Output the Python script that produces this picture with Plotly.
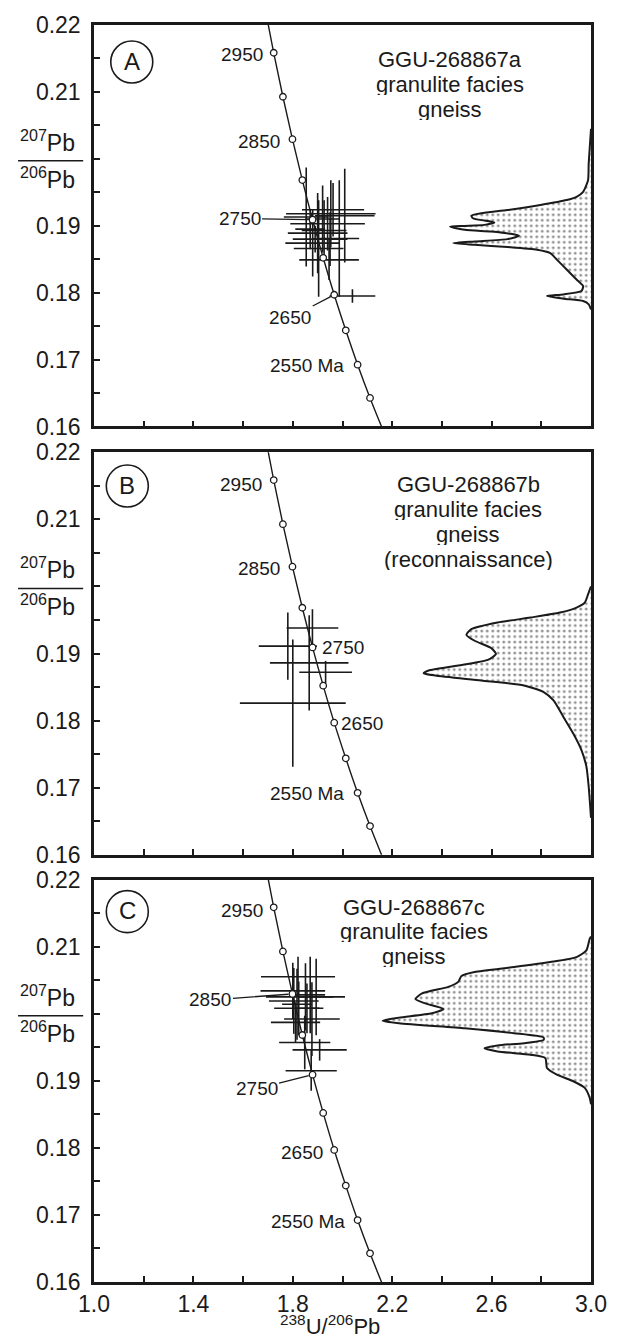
import plotly.graph_objects as go

FONT = "Liberation Sans, Arial, Helvetica, sans-serif"
INK = "#1a1a1a"

# ---------------- data ----------------
# Tera-Wasserburg concordia, values (ages in Ma)
conc_age = [2450, 2500, 2550, 2600, 2650, 2700, 2750, 2800, 2850, 2900, 2950, 3000]
conc_x = [2.1628, 2.1108, 2.0608, 2.0132, 1.9667, 1.9223, 1.8795, 1.8383, 1.7986, 1.7602, 1.7232, 1.6874]
conc_y = [0.15947, 0.16427, 0.16923, 0.17437, 0.17969, 0.18521, 0.19091, 0.19682, 0.20294, 0.20928, 0.21585, 0.22266]
tick_ages = [2500, 2550, 2600, 2650, 2700, 2750, 2800, 2850, 2900, 2950]

# Panel A: GGU-268867a analyses (centre, half error)
a_x = [1.854, 1.904, 2.009, 1.987, 2.040, 1.953, 1.940, 1.946, 1.880, 1.926, 1.950, 1.962, 1.900, 1.870, 1.920, 1.890]
a_y = [0.1913, 0.1866, 0.1915, 0.1881, 0.1795, 0.1918, 0.1903, 0.1849, 0.1874, 0.1893, 0.1880, 0.1924, 0.1889, 0.1895, 0.1910, 0.1880]
a_xe = [0.090, 0.100, 0.120, 0.080, 0.092, 0.180, 0.150, 0.120, 0.110, 0.090, 0.070, 0.125, 0.120, 0.060, 0.070, 0.090]
a_ye = [0.0074, 0.0072, 0.0070, 0.0087, 0.0010, 0.0050, 0.0040, 0.0030, 0.0050, 0.0045, 0.0040, 0.0040, 0.0060, 0.0030, 0.0050, 0.0020]

# Panel B: GGU-268867b
b_x = [1.780, 1.800, 1.866, 1.879, 1.932]
b_y = [0.1911, 0.1826, 0.1886, 0.1938, 0.1872]
b_xe = [0.117, 0.213, 0.158, 0.104, 0.106]
b_ye = [0.0050, 0.0095, 0.0071, 0.0028, 0.0017]

# Panel C: GGU-268867c
c_x = [1.821, 1.800, 1.851, 1.804, 1.824, 1.877, 1.811, 1.848, 1.908, 1.874, 1.870, 1.894, 1.857, 1.817]
c_y = [0.2055, 0.2034, 0.2025, 0.2019, 0.2008, 0.1992, 0.1987, 0.1957, 0.1946, 0.1915, 0.2028, 0.2025, 0.2008, 0.2014]
c_xe = [0.149, 0.130, 0.159, 0.100, 0.099, 0.112, 0.099, 0.103, 0.109, 0.103, 0.060, 0.070, 0.050, 0.060]
c_ye = [0.0030, 0.0042, 0.0050, 0.0049, 0.0040, 0.0055, 0.0030, 0.0040, 0.0016, 0.0030, 0.0057, 0.0057, 0.0037, 0.0053]

# Probability density outlines (x, y)
pdf_a_x = [3.0, 2.9907, 2.9881, 2.9683, 2.9418, 2.9021, 2.7963, 2.6640, 2.5582, 2.5185, 2.5251, 2.5714,
           2.6111, 2.5714, 2.4921, 2.4325, 2.4921, 2.5979, 2.6772, 2.7103, 2.6640, 2.5317, 2.4458, 2.5317,
           2.6640, 2.7831, 2.8360, 2.8624, 2.9021, 2.9418, 2.9683, 2.9616, 2.8889, 2.8228, 2.8889, 2.9683,
           2.9907, 3.0]
pdf_a_y = [0.2045, 0.19928, 0.19681, 0.19507, 0.19433, 0.19384, 0.19310, 0.19235, 0.19186, 0.19151, 0.19112,
           0.19077, 0.19048, 0.19013, 0.18998, 0.18988, 0.18939, 0.18914, 0.18879, 0.18850, 0.18800, 0.18766,
           0.18741, 0.18716, 0.18682, 0.18642, 0.18592, 0.18494, 0.18345, 0.18197, 0.18098, 0.18024, 0.17974,
           0.17950, 0.17910, 0.17875, 0.17826, 0.1775]

pdf_b_x = [3.0, 2.9881, 2.9749, 2.9418, 2.8757, 2.7566, 2.6243, 2.5185, 2.4987, 2.5317, 2.5979, 2.6177,
           2.5847, 2.4656, 2.3466, 2.3267, 2.3730, 2.5582, 2.7302, 2.8095, 2.8492, 2.8889, 2.9286, 2.9616,
           2.9815, 2.9907, 3.0]
pdf_b_y = [0.2000, 0.19881, 0.19758, 0.19684, 0.19610, 0.19536, 0.19462, 0.19363, 0.19279, 0.19190, 0.19082,
           0.18993, 0.18904, 0.18820, 0.18746, 0.18706, 0.18672, 0.18598, 0.18524, 0.18425, 0.18301, 0.18055,
           0.17807, 0.17560, 0.17314, 0.17017, 0.1655]

pdf_c_x = [3.0, 2.9947, 2.9815, 2.9418, 2.8360, 2.6905, 2.5317, 2.4788, 2.4656, 2.4259, 2.3201, 2.2937,
           2.3333, 2.4061, 2.3598, 2.2275, 2.1614, 2.2275, 2.4921, 2.6905, 2.8095, 2.8095, 2.7302, 2.6243,
           2.5714, 2.6243, 2.7566, 2.8161, 2.8228, 2.8624, 2.9286, 2.9749, 2.9947, 3.0]
pdf_c_y = [0.2115, 0.21116, 0.20943, 0.20844, 0.20770, 0.20696, 0.20622, 0.20562, 0.20474, 0.20400, 0.20301,
           0.20217, 0.20153, 0.20069, 0.20005, 0.19941, 0.19896, 0.19857, 0.19783, 0.19709, 0.19644, 0.19610,
           0.19560, 0.19526, 0.19486, 0.19437, 0.19388, 0.19338, 0.19190, 0.19091, 0.18993, 0.18894, 0.18746,
           0.1865]

x_ticks = [1.0, 1.4, 1.8, 2.2, 2.6, 3.0]
x_labels = ["1.0", "1.4", "1.8", "2.2", "2.6", "3.0"]
y_ticks = [0.16, 0.17, 0.18, 0.19, 0.21, 0.22]
y_labels = ["0.16", "0.17", "0.18", "0.19", "0.21", "0.22"]

panel_letters = ["A", "B", "C"]
panel_titles = [
    ["GGU-268867a", "granulite facies", "gneiss"],
    ["GGU-268867b", "granulite facies", "gneiss", "(reconnaissance)"],
    ["GGU-268867c", "granulite facies", "gneiss"],
]

# ---------------- figure ----------------
fig = go.Figure()
suffix = ["", "2", "3"]
domains = [[0.6806, 1.0], [0.3399, 0.6601], [0.0, 0.3202]]
crosses = [(a_x, a_y, a_xe, a_ye), (b_x, b_y, b_xe, b_ye), (c_x, c_y, c_xe, c_ye)]
pdfs = [(pdf_a_x, pdf_a_y), (pdf_b_x, pdf_b_y), (pdf_c_x, pdf_c_y)]

conc_marker_x = [conc_x[conc_age.index(a)] for a in tick_ages]
conc_marker_y = [conc_y[conc_age.index(a)] for a in tick_ages]

for i in range(3):
    xa, ya = "x" + suffix[i], "y" + suffix[i]
    px, py = pdfs[i]
    fig.add_trace(go.Scatter(
        x=px, y=py, xaxis=xa, yaxis=ya, mode="lines", fill="toself",
        line=dict(color=INK, width=2, shape="spline", smoothing=0.6),
        fillcolor="white",
        fillpattern=dict(shape=".", size=5.5, solidity=0.22, fgcolor="#222222", bgcolor="white"),
        hoverinfo="skip"))
    cx, cy, cxe, cye = crosses[i]
    fig.add_trace(go.Scatter(
        x=cx, y=cy, xaxis=xa, yaxis=ya, mode="markers",
        marker=dict(size=1, color=INK),
        error_x=dict(type="data", array=cxe, width=0, thickness=1.6, color=INK),
        error_y=dict(type="data", array=cye, width=0, thickness=1.6, color=INK),
        hoverinfo="skip"))
    fig.add_trace(go.Scatter(
        x=conc_x, y=conc_y, xaxis=xa, yaxis=ya, mode="lines",
        line=dict(color=INK, width=1.4, shape="spline"), hoverinfo="skip"))
    fig.add_trace(go.Scatter(
        x=conc_marker_x, y=conc_marker_y, xaxis=xa, yaxis=ya, mode="markers",
        marker=dict(size=6.5, color="white", line=dict(color=INK, width=1.3)),
        hoverinfo="skip"))

axis_common = dict(showgrid=False, zeroline=False, showline=True, linewidth=2.5, linecolor=INK,
                   mirror=True, ticks="inside", ticklen=6, tickwidth=1.6, tickcolor=INK,
                   tickfont=dict(family=FONT, size=23, color=INK))

layout = dict(width=619, height=1340, margin=dict(l=94, r=21, t=17, b=58),
              paper_bgcolor="white", plot_bgcolor="white", showlegend=False,
              font=dict(family=FONT, color=INK))
for i in range(3):
    layout["xaxis" + suffix[i]] = dict(axis_common, range=[1.0, 3.0], domain=[0, 1],
                                       anchor="y" + suffix[i], tickmode="array",
                                       tickvals=x_ticks, ticktext=x_labels,
                                       showticklabels=(i == 2), ticklabelstandoff=0,
                                       minor=dict(ticks="inside", ticklen=6, tickwidth=1.6,
                                                  tickcolor=INK, tick0=1.0, dtick=0.2, showgrid=False))
    layout["yaxis" + suffix[i]] = dict(axis_common, range=[0.16, 0.22], domain=domains[i],
                                       anchor="x" + suffix[i], tickmode="array",
                                       tickvals=y_ticks, ticktext=y_labels, ticklabelstandoff=6,
                                       minor=dict(ticks="inside", ticklen=6, tickwidth=1.6,
                                                  tickcolor=INK, tick0=0.16, dtick=0.005, showgrid=False))
fig.update_layout(**layout)

annotations = []
shapes = []


def conc_pt(age):
    k = conc_age.index(age)
    return conc_x[k], conc_y[k]


def label(i, age, text, xanchor, xshift, yshift):
    x, y = conc_pt(age)
    annotations.append(dict(x=x, y=y, xref="x" + suffix[i], yref="y" + suffix[i], text=text,
                            showarrow=False, xanchor=xanchor, yanchor="middle",
                            xshift=xshift, yshift=yshift, font=dict(size=19, family=FONT, color=INK)))


def leader(i, age, text, ax, ay):
    x, y = conc_pt(age)
    annotations.append(dict(x=x, y=y, xref="x" + suffix[i], yref="y" + suffix[i], text=text,
                            showarrow=True, ax=ax, ay=ay, arrowhead=0, arrowwidth=1.3,
                            arrowcolor=INK, standoff=4, font=dict(size=19, family=FONT, color=INK)))


# Panel A labels
label(0, 2950, "2950", "right", -9, -2)
label(0, 2850, "2850", "right", -10, -2)
leader(0, 2750, "2750", -73, -1)
leader(0, 2650, "2650", -44, 23)
label(0, 2550, "2550 Ma", "right", -12, -1)
# Panel B labels
label(1, 2950, "2950", "right", -10, -4)
label(1, 2850, "2850", "right", -10, -2)
label(1, 2750, "2750", "left", 7, 0)
label(1, 2650, "2650", "left", 5, -1)
label(1, 2550, "2550 Ma", "right", -12, -1)
# Panel C labels
label(2, 2950, "2950", "right", -9, -3)
leader(2, 2850, "2850", -82, 6)
leader(2, 2750, "2750", -56, 14)
label(2, 2650, "2650", "right", -9, -3)
label(2, 2550, "2550 Ma", "right", -11, -1)

# Panel titles
title_x = [2.4325, 2.5052, 2.2869]
title_y0 = [0.21485, 0.21526, 0.21585]
title_step = [0.0037, 0.0037, 0.0036]
for i in range(3):
    for j, line in enumerate(panel_titles[i]):
        annotations.append(dict(x=title_x[i], y=title_y0[i] - j * title_step[i],
                                xref="x" + suffix[i], yref="y" + suffix[i], text=line,
                                showarrow=False, xanchor="center", yanchor="middle", height=22,
                                font=dict(size=22, family=FONT, color=INK)))

# Panel letters in circles
letter_x = [1.152, 1.134, 1.134]
letter_y = [0.21447, 0.21496, 0.21521]
for i in range(3):
    shapes.append(dict(type="circle", xref="x" + suffix[i], yref="y" + suffix[i],
                       xsizemode="pixel", ysizemode="pixel",
                       xanchor=letter_x[i], yanchor=letter_y[i], x0=-21, x1=21, y0=-21, y1=21,
                       line=dict(color=INK, width=1.6), fillcolor="rgba(0,0,0,0)"))
    annotations.append(dict(x=letter_x[i], y=letter_y[i], xref="x" + suffix[i], yref="y" + suffix[i],
                            text=panel_letters[i], showarrow=False, xanchor="center", yanchor="middle",
                            yshift=1, font=dict(size=24, family=FONT, color=INK)))

# Y-axis fraction titles
for i in range(3):
    annotations.append(dict(x=-0.0933, y=0.2027, xref="paper", yref="y" + suffix[i],
                            text="<sup>207</sup>Pb", showarrow=False, xanchor="center", yanchor="middle",
                            font=dict(size=23, family=FONT, color=INK)))
    annotations.append(dict(x=-0.0933, y=0.1972, xref="paper", yref="y" + suffix[i],
                            text="<sup>206</sup>Pb", showarrow=False, xanchor="center", yanchor="middle",
                            font=dict(size=23, family=FONT, color=INK)))
    shapes.append(dict(type="line", xref="paper", yref="y" + suffix[i], x0=-0.1528, x1=-0.0218,
                       y0=0.1997, y1=0.1997, line=dict(color=INK, width=1.5)))

# X-axis title
annotations.append(dict(x=0.474, y=-0.0345, xref="paper", yref="paper",
                        text="<sup>238</sup>U/<sup>206</sup>Pb", showarrow=False, height=24,
                        xanchor="center", yanchor="middle", font=dict(size=22, family=FONT, color=INK)))

fig.update_layout(annotations=annotations, shapes=shapes)
fig.write_html("out.html", config={"displayModeBar": False},
               post_script="document.body.style.margin='0';document.body.style.overflow='hidden';")
